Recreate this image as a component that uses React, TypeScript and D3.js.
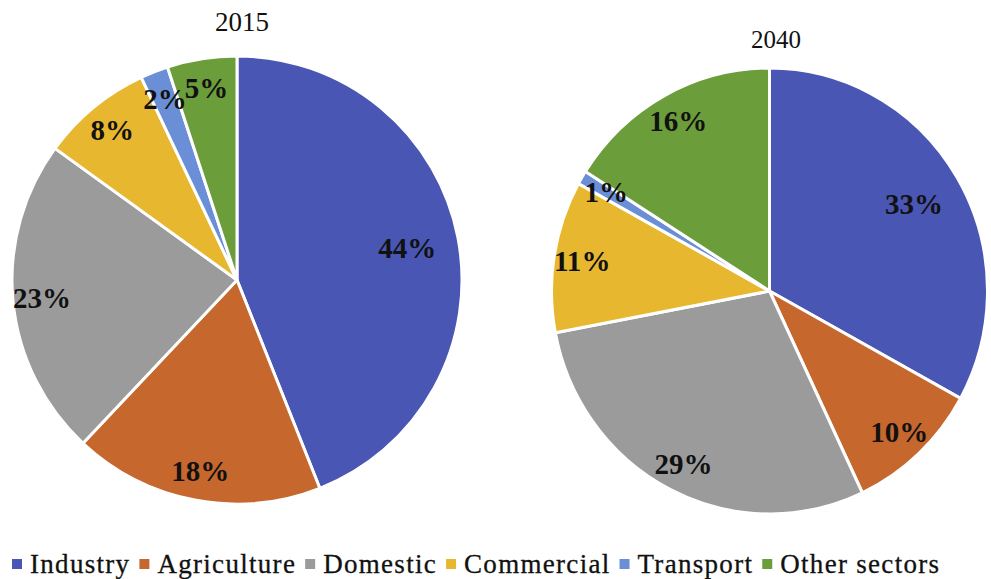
import React, { useEffect, useRef } from "react";
import * as d3 from "d3";

const categories = ["Industry", "Agriculture", "Domestic", "Commercial", "Transport", "Other sectors"];
const colors = ["#4956B3", "#C6672D", "#9B9B9B", "#E8B730", "#6A8FD6", "#6C9D3B"];
const values2015 = [44, 18, 23, 8, 2, 5];
const values2040 = [33, 10, 29, 11, 1, 16];
const titles = ["2015", "2040"];

const W = 991;
const H = 579;
const SERIF = "'Liberation Serif', 'Times New Roman', serif";

type PieSpec = {
  title: string;
  values: number[];
  cx: number;
  cy: number;
  rx: number;
  ry: number;
  titleX: number;
  titleY: number;
  titleSize: number;
};

function Pie({ spec }: { spec: PieSpec }) {
  const pie = d3.pie<number>().sort(null).value((d) => d).startAngle(0).endAngle(2 * Math.PI);
  const arcs = pie(spec.values);
  const total = d3.sum(spec.values);
  const arc = d3.arc<d3.PieArcDatum<number>>().innerRadius(0).outerRadius(spec.rx);
  const sy = spec.ry / spec.rx;
  return (
    <g>
      <g transform={`translate(${spec.cx},${spec.cy}) scale(1,${sy})`}>
        {arcs.map((a, i) => (
          <path key={i} d={arc(a) || ""} fill={colors[i]} stroke="#ffffff" strokeWidth={3} strokeLinejoin="round" />
        ))}
      </g>
      {arcs.map((a, i) => {
        const mid = (a.startAngle + a.endAngle) / 2;
        const lr = a.value / total > 0.3 ? 0.77 : 0.87;
        const x = spec.cx + Math.sin(mid) * spec.rx * lr;
        const y = spec.cy - Math.cos(mid) * spec.ry * lr;
        return (
          <text
            key={"l" + i}
            x={x}
            y={y}
            textAnchor="middle"
            dominantBaseline="central"
            fontFamily={SERIF}
            fontWeight="bold"
            fontSize={29}
            fill="#111"
          >
            {spec.values[i]}%
          </text>
        );
      })}
      <text x={spec.titleX} y={spec.titleY} textAnchor="middle" fontFamily={SERIF} fontSize={spec.titleSize} fill="#111">
        {spec.title}
      </text>
    </g>
  );
}

function Legend() {
  const ref = useRef<SVGGElement>(null);
  useEffect(() => {
    const g = d3.select(ref.current);
    g.selectAll("*").remove();
    let x = 12;
    const yMid = 564;
    categories.forEach((c, i) => {
      g.append("rect")
        .attr("x", x)
        .attr("y", yMid - 5)
        .attr("width", 10)
        .attr("height", 10)
        .attr("fill", colors[i]);
      x += 18;
      const t = g
        .append("text")
        .attr("x", x)
        .attr("y", yMid + 9)
        .attr("font-family", SERIF)
        .attr("font-size", 27)
        .attr("letter-spacing", 1.3)
        .attr("fill", "#111")
        .attr("stroke", "#111")
        .attr("stroke-width", 0.3)
        .text(c);
      const w = (t.node() as SVGTextElement).getComputedTextLength();
      x += w + 9;
    });
  }, []);
  return <g ref={ref} />;
}

export default function App() {
  const specs: PieSpec[] = [
    { title: titles[0], values: values2015, cx: 237, cy: 280, rx: 225, ry: 224, titleX: 242, titleY: 31, titleSize: 27 },
    { title: titles[1], values: values2040, cx: 769.5, cy: 291, rx: 218, ry: 223, titleX: 776, titleY: 48, titleSize: 25 },
  ];
  return (
    <svg width={W} height={H} style={{ position: "absolute", left: 0, top: 0, background: "#fff" }}>
      {specs.map((s, i) => (
        <Pie key={i} spec={s} />
      ))}
      <Legend />
    </svg>
  );
}
